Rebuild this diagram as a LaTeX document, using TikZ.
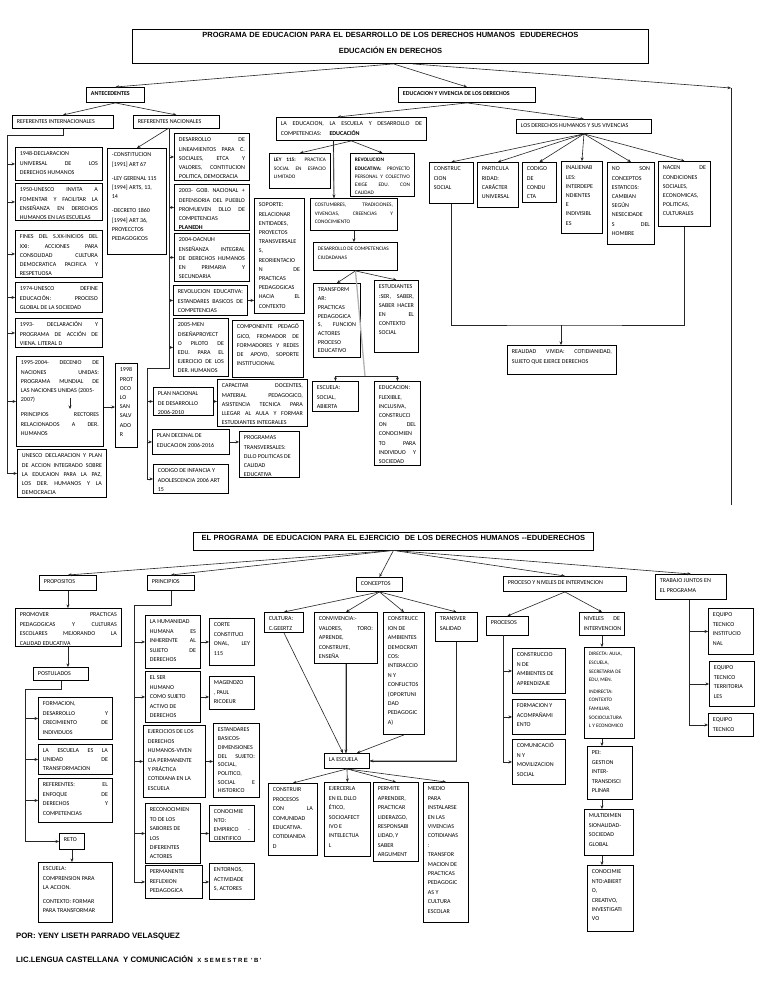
\documentclass[tikz,border=0pt]{standalone}
\usepackage{fontspec}
\setmainfont{Carlito}
\newfontfamily\arialfont{Liberation Sans}
\usetikzlibrary{arrows.meta,calc}
\newcommand\boxfont{\fontsize{6}{9.2}\selectfont}
\newcommand\boxfontb{\fontsize{6}{9.4}\selectfont}
\newcommand\tightfont{\fontsize{6}{8.7}\selectfont}
\newcommand\smallfont{\fontsize{5.3}{8.2}\selectfont}
\newcommand\titlefont{\arialfont\bfseries\fontsize{7.5}{16}\selectfont}
\hyphenpenalty=10000
\exhyphenpenalty=10000
\hbadness=10000

\begin{document}
\begin{tikzpicture}[x=1pt, y=-1pt,
  box/.style={draw, line width=0.9pt, anchor=north west, inner xsep=4.5pt, inner ysep=2.5pt,
    align=justify, font=\boxfont, text height=6pt},
  sz/.code args={#1/#2}{\pgfmathsetmacro\bxw{#1-9}\pgfmathsetmacro\bxd{#2-11}%
    \pgfkeysalso{minimum width=#1pt, text width=\bxw pt, text depth=\bxd pt}},
  hd/.style={box, font=\boxfont\bfseries},
  ttl/.style={box, align=center, font=\titlefont},
  arr/.style={-{Stealth[length=3.5pt, width=3pt]}, line width=0.6pt, black!85},
  line/.style={line width=0.6pt, black!85},
  gline/.style={line width=1.3pt, black!30},
  sign/.style={anchor=west, inner sep=0pt, font=\arialfont\bfseries\fontsize{7.8}{9}\selectfont}]
  \useasboundingbox (0,0) rectangle (768,994);
  \fill[white] (0,0) rectangle (768,994);

  % ---------- first map: desarrollo de los derechos humanos ----------
  \node[ttl, sz=516/34] (title) at (132,29) {PROGRAMA DE EDUCACION PARA EL DESARROLLO DE LOS DERECHOS HUMANOS\ \ EDUDERECHOS\\ EDUCACIÓN EN DERECHOS};
  \node[hd, sz=58/15] (antec) at (86,87) {ANTECEDENTES};
  \node[hd, sz=137/15] (eduviv) at (398,87) {EDUCACION Y VIVENCIA DE LOS DERECHOS};
  \coordinate (rc) at (731,88);
  \draw[arr] ([xshift=3]title.south) -- (antec.north);
  \draw[arr] ([xshift=3]title.south) -- (eduviv.north);
  \draw[arr] ([xshift=22]title.south) -- (rc);
  \draw[line] (rc) -- ++(0,417);

  % antecedentes
  \node[box, sz=101/13] (refint) at (12,115) {REFERENTES INTERNACIONALES};
  \node[box, sz=86/13] (refnac) at (133,115) {REFERENTES NACIONALES};
  \draw[arr] (antec.south) -- (refint.north);
  \draw[arr] (antec.south) -- (refnac.north);

  \node[box, sz=87/33] (d1948) at (15,147) {1948-DECLARACION\\ UNIVERSAL DE LOS\linebreak DERECHOS HUMANOS};
  \node[box, sz=87/37] (d1950) at (15,183) {1950-UNESCO INVITA A\linebreak FOMENTAR Y FACILITAR LA\linebreak ENSEÑANZA EN DERECHOS\linebreak HUMANOS EN LAS ESCUELAS};
  \node[box, sz=87/47] (fines) at (15,230) {FINES DEL S.XX-INICIOS DEL\linebreak XXI: ACCIONES PARA\linebreak CONSOLIDAD CULTURA\linebreak DEMOCRATICA PACIFICA Y\linebreak RESPETUOSA};
  \node[box, sz=87/30] (d1974) at (15,282) {1974-UNESCO DEFINE\linebreak EDUCACIÓN: PROCESO\linebreak GLOBAL DE LA SOCIEDAD};
  \node[box, sz=87/29] (d1993) at (15,318) {1993- DECLARACIÓN Y\linebreak PROGRAMA DE ACCIÓN DE\linebreak VIENA. LITERAL D};
  \node[box, sz=87/90] (d1995) at (16,356) {1995-2004- DECENIO DE\linebreak NACIONES UNIDAS:\linebreak PROGRAMA MUNDIAL DE\linebreak LAS NACIONES UNIDAS (2005-\\ 2007)\par\vspace{6pt}PRINCIPIOS RECTORES\linebreak RELACIONADOS A DER.\linebreak HUMANOS};
  \node[box, sz=89/48] (unesco) at (17,449) {UNESCO DECLARACION Y PLAN\linebreak DE ACCION INTEGRADO SOBRE\linebreak LA EDUCAION PARA LA PAZ,\linebreak LOS DER. HUMANOS Y LA\linebreak DEMOCRACIA};
  \coordinate (lb) at (7,135);
  \draw[line] (refint.south) |- (lb) -- (lb |- unesco.west);
  \foreach \n in {d1948,d1950,fines,d1974,d1993,d1995,unesco}
    \draw[arr] (lb |- \n.west) -- (\n.west);
  \coordinate (a1995) at (70,398);
  \coordinate (b1995) at (70,409);
  \draw[arr] (a1995) -- (b1995);

  \node[box, sz=22/84] (p1998) at (115,363) {1998\\ PROT\\ OCO\\ LO\\ SAN\\ SALV\\ ADO\\ R};
  \draw[arr] (d1995.east |- 0,407) -- (p1998.west |- 0,407);

  % referentes nacionales
  \node[box, sz=59/106] (cons) at (107,148) {-CONSTITUCION\\{}[1991] ART 67\par\vspace{5pt}-LEY GERENAL 115\\{}[1994] ARTS, 13,\\ 14\par\vspace{5pt}-DECRETO 1860\\{}[1994] ART 36,\\ PROYECCTOS\\ PEDAGOGICOS};
  \node[box, sz=75/47] (desl) at (174,133) {DESARROLLO DE\linebreak LINEAMIENTOS PARA C.\linebreak SOCIALES, ETCA Y\linebreak VALORES, CONTITUCION\linebreak POLITICA, DEMOCRACIA};
  \node[box, sz=75/46] (d2003) at (174,184) {2003- GOB. NACIONAL +\linebreak DEFENSORIA DEL PUEBLO\linebreak PROMUEVEN DLLO DE\linebreak COMPETENCIAS\\ \textbf{PLANEDH}};
  \node[box, sz=75/48] (d2004) at (174,233) {2004-OACNUH\\ ENSEÑANZA INTEGRAL\linebreak DE DERECHOS HUMANOS\linebreak EN PRIMARIA Y\linebreak SECUNDARIA};
  \node[box, sz=74/30] (reved) at (173,285) {REVOLUCION EDUCATIVA:\linebreak ESTANDARES BASICOS DE\linebreak COMPETENCIAS};
  \node[box, sz=55/58] (d2005) at (173,318) {2005-MEN\\ DISEÑAPROYECT\linebreak O PILOTO DE\linebreak EDU. PARA EL\linebreak EJERCICIO DE LOS\linebreak DER. HUMANOS};
  \node[box, sz=71/57] (compo) at (232,320) {COMPONENTE PEDAGÓ\linebreak GICO, FROMADOR DE\linebreak FORMADORES Y REDES\linebreak DE APOYO, SOPORTE\linebreak INSTITUCIONAL};
  \node[box, sz=50/115] (soporte) at (254,198) {SOPORTE:\\ RELACIONAR\\ ENTIDADES,\\ PROYECTOS\\ TRANSVERSALE\\ S,\\ REORIENTACIO\\ N DE\linebreak PRACTICAS\\ PEDAGOGICAS\\ HACIA EL\linebreak CONTEXTO};
  \node[box, sz=60/28] (pnd) at (153,387) {PLAN NACIONAL\\ DE DESARROLLO\\ 2006-2010};
  \node[box, sz=90/47] (capac) at (217,379) {CAPACITAR DOCENTES,\linebreak MATERIAL PEDAGOGICO,\linebreak ASISTENCIA TECNICA PARA\linebreak LLEGAR AL AULA Y FORMAR\linebreak ESTUDIANTES INTEGRALES};
  \node[box, sz=77/25] (pdecenal) at (152,429) {PLAN DECENAL DE\\ EDUCACION 2006-2016};
  \node[box, sz=60/46] (progtr) at (239,431) {PROGRAMAS\\ TRANSVERSALES:\\ DLLO POLITICAS DE\\ CALIDAD\\ EDUCATIVA};
  \node[box, sz=75/29] (codigo) at (153,464) {CODIGO DE INFANCIA Y\\ ADOLESCENCIA 2006 ART\\ 15};
  \coordinate (nb) at (169,128);
  \coordinate (nb2) at (147,368);
  \draw[arr] (nb) -- (cons.north);
  \draw[line] (nb) -- (nb |- nb2) -- (nb2) -- (nb2 |- codigo.west);
  \foreach \n in {desl,d2003,d2004,reved,d2005}
    \draw[arr] (nb |- \n.west) -- (\n.west);
  \draw[arr] (reved.east) -- (reved.east -| soporte.west);
  \foreach \n in {pnd,pdecenal,codigo}
    \draw[arr] (nb2 |- \n.west) -- (\n.west);
  \draw[arr] (pnd.east) -- (pnd.east -| capac.west);
  \draw[arr] (pdecenal.east) -- (pdecenal.east -| progtr.west);

  % educacion y vivencia
  \node[box, sz=150/23] (laedu) at (276,117) {LA EDUCACION, LA ESCUELA Y DESARROLLO DE\linebreak COMPETENCIAS:\hspace{8pt}\textbf{EDUCACIÓN}};
  \node[box, sz=135/14] (losder) at (516,119) {LOS DERECHOS HUMANOS Y SUS VIVENCIAS};
  \draw[arr] (eduviv.south) -- ([xshift=-14]laedu.north);
  \draw[arr] (eduviv.south) -- (losder.north);

  \node[box, sz=61/35, font=\smallfont] (ley115) at (269,153) {\textbf{LEY 115:} PRACTICA\linebreak SOCIAL EN ESPACIO\linebreak LIMITADO};
  \node[box, sz=64/43, font=\smallfont] (revedu) at (350,153) {\textbf{REVOLUCION}\\ \textbf{EDUCATIVA:} PROYECTO\linebreak PERSONAL Y COLECTIVO\linebreak EXIGE EDU. CON\linebreak CALIDAD};
  \node[box, sz=87/32, font=\smallfont] (costum) at (310,198) {COSTUMBRES, TRADICIONES,\linebreak VIVENCIAS, CREENCIAS Y\linebreak CONOCIMIENTO};
  \node[box, sz=84/28, font=\smallfont] (descomp) at (313,242) {DESARROLLO DE COMPETENCIAS\\ CIUDADANAS};
  \node[box, sz=47/74, font=\tightfont] (transf) at (313,283) {TRANSFORM\\ AR:\\ PRACTICAS\\ PEDAGOGICA\\ S, FUNCION\linebreak ACTORES\\ PROCESO\\ EDUCATIVO};
  \node[box, sz=44/72] (estud) at (374,280) {ESTUDIANTES\\ :SER, SABER,\linebreak SABER HACER\linebreak EN EL\linebreak CONTEXTO\\ SOCIAL};
  \node[box, sz=46/30] (escuela) at (312,381) {ESCUELA:\\ SOCIAL,\\ ABIERTA};
  \node[box, sz=46/84] (eduflex) at (374,381) {EDUCACION:\\ FLEXIBLE,\\ INCLUSIVA,\\ CONSTRUCCI\\ ON DEL\linebreak CONOCIMIEN\\ TO PARA\linebreak INDIVIDUO Y\linebreak SOCIEDAD};
  \draw[arr] (laedu.south) -- (ley115.north);
  \draw[arr] (laedu.south) -- (revedu.north);
  \draw[gline] ([xshift=-18]laedu.south) -- ([xshift=-20]costum.north);
  \draw[arr] ([xshift=-18]laedu.south) -- ([xshift=-20]costum.north);
  \draw[arr] (costum.south) -- (costum.south |- descomp.north);
  \draw[arr] (descomp.south) -- (transf.north);
  \draw[arr] (descomp.south) -- (estud.north);
  \coordinate (eb) at (365,376);
  \draw[gline] (descomp.south) -- (eb);
  \draw[line] (eb -| escuela.north) -- (eb -| eduflex.north);
  \draw[arr] (eb -| escuela.north) -- (escuela.north);
  \draw[arr] (eb -| eduflex.north) -- (eduflex.north);

  % derechos humanos y sus vivencias
  \node[box, sz=44/41] (consoc) at (429,162) {CONSTRUC\\ CION\\ SOCIAL};
  \node[box, sz=41/45] (partic) at (477,162) {PARTICULA\\ RIDAD:\\ CARÁCTER\\ UNIVERSAL};
  \node[box, sz=34/40] (codcond) at (522,162) {CODIGO\\ DE\\ CONDU\\ CTA};
  \node[box, sz=41/72] (inal) at (561,161) {INALIENAB\\ LES:\\ INTERDEPE\\ NDIENTES\\ E\\ INDIVISIBL\\ ES};
  \node[box, sz=47/82] (noson) at (607,162) {NO SON\linebreak CONCEPTOS\\ ESTATICOS:\\ CAMBIAN\\ SEGÚN\\ NESECIDADE\\ S DEL\linebreak HOMBRE};
  \node[box, sz=52/65] (nacen) at (658,161) {NACEN DE\linebreak CONDICIONES\\ SOCIALES,\\ ECONOMICAS,\\ POLITICAS,\\ CULTURALES};
  \node[box, sz=109/29] (realid) at (507,345) {REALIDAD VIVIDA: COTIDIANIDAD,\linebreak SUJETO QUE EJERCE DERECHOS};
  \foreach \n in {consoc,partic,codcond,inal,noson,nacen}
    \draw[arr] (losder.south) -- (\n.north);
  \coordinate (rb) at (561,325);
  \draw[line] (nacen.south) |- (rb) -| (consoc.south);
  \draw[arr] (rb) -- (rb |- realid.north);

  % ---------- second map: ejercicio de los derechos humanos ----------
  \begin{scope}[box/.append style={font=\boxfontb}]
  \node[ttl, sz=400/18, font=\arialfont\bfseries\fontsize{7.5}{9}\selectfont, text height=5.5pt] (title2) at (193,532) {EL PROGRAMA\ \ DE EDUCACION PARA EL EJERCICIO\ \ DE LOS DERECHOS HUMANOS --EDUDERECHOS};
  \node[box, sz=57/15] (prop) at (39,575) {PROPOSITOS};
  \node[box, sz=47/15] (princ) at (147,575) {PRINCIPIOS};
  \node[box, sz=46/14] (conc) at (356,577) {CONCEPTOS};
  \node[box, sz=123/15] (procniv) at (503,576) {PROCESO Y NIVELES DE INTERVENCION};
  \node[box, sz=71/25] (trabajo) at (655,574) {TRABAJO JUNTOS EN\\ EL PROGRAMA};
  \foreach \n in {prop,princ,procniv,trabajo}
    \draw[arr] (title2.south) -- (\n.north);
  \draw[arr] (title2.south) -- (conc.north);

  % propositos
  \node[box, sz=106/38] (promov) at (15,608) {PROMOVER PRACTICAS\linebreak PEDAGOGICAS Y CULTURAS\linebreak ESCOLARES MEJORANDO LA\linebreak CALIDAD EDUCATIVA};
  \node[box, sz=55/13] (postul) at (33,667) {POSTULADOS};
  \node[box, sz=74/42] (formac) at (38,697) {FORMACION,\\ DESARROLLO Y\linebreak CRECIMIENTO DE\linebreak INDIVIDUOS};
  \node[box, sz=74/30, font=\tightfont] (escuni) at (38,744) {LA ESCUELA ES LA\linebreak UNIDAD DE\linebreak TRANSFORMACION};
  \node[box, sz=74/44] (refer) at (38,778) {REFERENTES: EL\linebreak ENFOQUE DE\linebreak DERECHOS Y\linebreak COMPETENCIAS};
  \node[box, sz=25/16] (reto) at (59,833) {RETO};
  \node[box, sz=74/60] (escomp) at (38,862) {ESCUELA:\\ COMPRENSION PARA\\ LA ACCION.\par\vspace{4pt}CONTEXTO: FORMAR\\ PARA TRANSFORMAR};
  \draw[arr] (prop.south) -- (prop.south |- promov.north);
  \draw[arr] (prop.south |- promov.south) -- (prop.south |- postul.north);
  \coordinate (pb) at (25,689);
  \draw[line] (postul.south) |- (pb) -- (pb |- reto.west);
  \foreach \n in {formac,escuni,refer,reto}
    \draw[arr] (pb |- \n.west) -- (\n.west);
  \draw[arr] (reto.south) -- (reto.south |- escomp.north);

  % principios
  \node[box, sz=55/53] (human) at (145,615) {LA HUMANIDAD\\ HUMANA ES\linebreak INHERENTE AL\linebreak SUJETO DE\linebreak DERECHOS};
  \node[box, sz=45/47] (corte) at (209,618) {CORTE\\ CONSTITUCI\\ ONAL, LEY\linebreak 115};
  \node[box, sz=55/51] (elser) at (145,671) {EL SER\\ HUMANO\\ COMO SUJETO\\ ACTIVO DE\\ DERECHOS};
  \node[box, sz=45/33] (magen) at (209,676) {MAGENDZO\\ , PAUL\\ RICOEUR};
  \node[box, sz=62/72] (ejerc) at (143,725) {EJERCICIOS DE LOS\\ DERECHOS\\ HUMANOS-VIVEN\\ CIA PERMANENTE\\ Y PRÁCTICA\\ COTIDIANA EN LA\\ ESCUELA};
  \node[box, sz=46/74, font=\tightfont] (estand) at (213,723) {ESTANDARES\\ BASICOS-\\ DIMENSIONES\\ DEL SUJETO:\linebreak SOCIAL,\\ POLITICO,\\ SOCIAL E\linebreak HISTORICO};
  \node[box, sz=55/60] (recon) at (145,803) {RECONOCIMIEN\\ TO DE LOS\\ SABORES DE\\ LOS\\ DIFERENTES\\ ACTORES};
  \node[box, sz=45/36, font=\tightfont] (conoc) at (209,805) {CONOCIMIE\\ NTO:\\ EMPIRICO -\linebreak CIENTIFICO};
  \node[box, sz=57/33] (perman) at (145,865) {PERMANENTE\\ REFLEXION\\ PEDAGOGICA};
  \node[box, sz=45/36] (entorn) at (209,863) {ENTORNOS,\\ ACTIVIDADE\\ S, ACTORES};
  \coordinate (qb) at (134,605);
  \draw[line] (princ.south) |- (qb) -- (qb |- perman.west);
  \foreach \n in {human,elser,ejerc,recon,perman}
    \draw[arr] (qb |- \n.west) -- (\n.west);
  \draw[arr] (human.east) -- (human.east -| corte.west);
  \draw[arr] (elser.east) -- (elser.east -| magen.west);
  \draw[arr] (ejerc.east) -- (ejerc.east -| estand.west);
  \draw[arr] (recon.east) -- (recon.east -| conoc.west);
  \draw[arr] (perman.east) -- (perman.east -| entorn.west);

  % conceptos
  \node[box, sz=39/20] (cultura) at (264,612) {CULTURA:\\ C.GEERTZ};
  \node[box, sz=63/51] (conviv) at (314,612) {CONVIVENCIA:-\\ VALORES, TORO:\linebreak APRENDE,\\ CONSTRUYE,\\ ENSEÑA};
  \node[box, sz=41/122] (ambien) at (383,612) {CONSTRUCC\\ ION DE\\ AMBIENTES\\ DEMOCRATI\\ COS:\\ INTERACCIO\\ N Y\\ CONFLICTOS\\ (OPORTUNI\\ DAD\\ PEDAGOGIC\\ A)};
  \node[box, sz=42/29] (transv) at (435,612) {TRANSVER\\ SALIDAD};
  \node[box, sz=45/15] (laesc) at (324,753) {LA ESCUELA};
  \foreach \n in {cultura,conviv,ambien,transv}
    \draw[arr] (conc.south) -- (\n.north);
  \draw[arr] (cultura.south) -- ([xshift=-4]laesc.north);
  \draw[gline] (conviv.south) -- (conviv.south |- laesc.north);
  \draw[arr] (conviv.south) -- (conviv.south |- laesc.north);
  \draw[arr] (ambien.south) -- ([xshift=10]laesc.north);
  \draw[gline] (transv.south) |- (laesc.east);
  \draw[arr] (transv.south) |- (laesc.east);

  \node[box, sz=49/72] (constr) at (268,783) {CONSTRUIR\\ PROCESOS\\ CON LA\linebreak COMUNIDAD\\ EDUCATIVA.\\ COTIDIANIDA\\ D};
  \node[box, sz=46/74] (ejercer) at (324,782) {EJERCERLA\\ EN EL DLLO\\ ÉTICO,\\ SOCIOAFECT\\ IVO E\\ INTELECTUA\\ L};
  \node[box, sz=45/79] (permite) at (373,782) {PERMITE\\ APRENDER,\\ PRACTICAR\\ LIDERAZGO,\\ RESPONSABI\\ LIDAD, Y\\ SABER\\ ARGUMENT};
  \node[box, sz=45/140] (medio) at (423,782) {MEDIO\\ PARA\\ INSTALARSE\\ EN LAS\\ VIVENCIAS\\ COTIDIANAS\\ :\\ TRANSFOR\\ MACION DE\\ PRACTICAS\\ PEDAGOGIC\\ AS Y\\ CULTURA\\ ESCOLAR};
  \foreach \n in {constr,ejercer,permite,medio}
    \draw[arr] (laesc.south) -- (\n.north);

  % proceso y niveles de intervencion
  \node[box, sz=42/19] (procesos) at (486,616) {PROCESOS};
  \node[box, sz=45/23] (niveles) at (579,612) {NIVELES DE\linebreak INTERVENCION};
  \node[box, sz=53/45] (ambapr) at (512,648) {CONSTRUCCIO\\ N DE\\ AMBIENTES DE\\ APRENDIZAJE};
  \node[box, sz=53/35] (facomp) at (512,699) {FORMACION Y\\ ACOMPAÑAMI\\ ENTO};
  \node[box, sz=53/45] (comun) at (512,739) {COMUNICACIÓ\\ N Y\\ MOVILIZACION\\ SOCIAL};
  \node[box, sz=50/91, font=\fontsize{5.2}{8.6}\selectfont] (directa) at (584,647) {DIRECTA: AULA,\\ ESCUELA,\\ SECRETARIA DE\\ EDU, MEN.\par\vspace{3pt}INDIRECTA:\\ CONTEXTO\\ FAMILIAR,\\ SOCIOCULTURA\\ L Y ECONOMICO};
  \node[box, sz=45/53] (pei) at (587,746) {PEI:\\ GESTION\\ INTER-\\ TRANSDISCI\\ PLINAR};
  \node[box, sz=49/46] (multi) at (584,809) {MULTIDIMEN\\ SIONALIDAD-\\ SOCIEDAD\\ GLOBAL};
  \node[box, sz=46/66] (conabi) at (587,865) {CONOCIMIE\\ NTO:ABIERT\\ O,\\ CREATIVO,\\ INVESTIGATI\\ VO};
  \draw[arr] (procniv.south) -- (procesos.north);
  \draw[arr] (procniv.south) -- (niveles.north);
  \coordinate (sb) at (503,635);
  \draw[line] (sb) -- (sb |- comun.west);
  \foreach \n in {ambapr,facomp,comun}
    \draw[arr] (sb |- \n.west) -- (\n.west);
  \draw[arr] (niveles.south) -- (niveles.south |- directa.north);
  \draw[arr] (niveles.south |- directa.south) -- (niveles.south |- pei.north);
  \draw[arr] (niveles.south |- pei.south) -- (niveles.south |- multi.north);
  \draw[arr] (niveles.south |- multi.south) -- (niveles.south |- conabi.north);

  % trabajo juntos
  \node[box, sz=45/46] (eqinst) at (708,608) {EQUIPO\\ TECNICO\\ INSTITUCIO\\ NAL};
  \node[box, sz=45/45] (eqterr) at (709,661) {EQUIPO\\ TECNICO\\ TERRITORIA\\ LES};
  \node[box, sz=45/23] (eqtec) at (708,713) {EQUIPO\\ TECNICO};
  \coordinate (tb) at ([xshift=-2]trabajo.south);
  \draw[line] (tb) -- (tb |- eqtec.west);
  \foreach \n in {eqinst,eqterr,eqtec}
    \draw[arr] (tb |- \n.west) -- (\n.west);
  \end{scope}

  % firma
  \node[sign] (autor) at (16,937) {POR: YENY LISETH PARRADO VELASQUEZ};
  \node[sign] (lic) at (16,959) {LIC.LENGUA CASTELLANA\ \ Y COMUNICACIÓN\ \ {\fontsize{6}{7}\selectfont\addfontfeature{LetterSpace=25}X SEMESTRE 'B'}};
\end{tikzpicture}
\end{document}
